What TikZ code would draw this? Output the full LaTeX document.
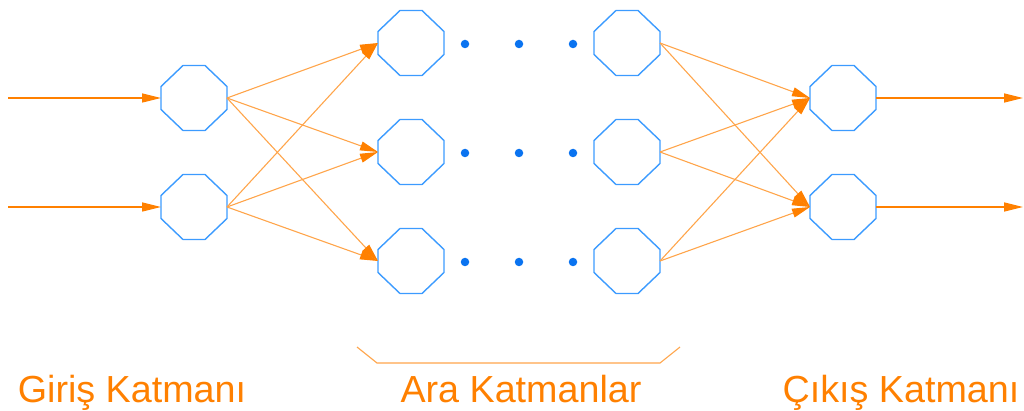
\documentclass[tikz,border=0pt]{standalone}
\usepackage{fontspec}
\setmainfont{Liberation Sans}
\usetikzlibrary{arrows.meta}
\definecolor{orD}{RGB}{255,128,0}
\definecolor{orL}{RGB}{255,165,75}
\definecolor{blO}{RGB}{60,155,255}
\definecolor{dotB}{RGB}{10,115,240}
\newcommand\octagon[1]{\draw[oct] ([shift={(-11pt,32.5pt)}]#1.center) -- ([shift={(11pt,32.5pt)}]#1.center) -- ([shift={(33pt,11.5pt)}]#1.center) -- ([shift={(33pt,-11.5pt)}]#1.center) -- ([shift={(11pt,-32.5pt)}]#1.center) -- ([shift={(-11pt,-32.5pt)}]#1.center) -- ([shift={(-33pt,-11.5pt)}]#1.center) -- ([shift={(-33pt,11.5pt)}]#1.center) -- cycle;}
\begin{document}
\begin{tikzpicture}[x=1pt,y=-1pt,
  neuron/.style={rectangle,minimum width=66pt,minimum height=65pt,inner sep=0pt,outer sep=0pt},
  io/.style={draw=orD,line width=1.3pt,-{Triangle[length=19pt,width=9pt]}},
  link/.style={draw=orL,line width=1.1pt,-{Triangle[length=18pt,width=9pt,color=orD]}},
  lbl/.style={text=orD,font=\fontsize{37.7}{40}\selectfont,anchor=base,inner sep=0pt},
  oct/.style={draw=blO,line width=1.4pt,line join=miter},
  dotst/.style={fill=dotB,circle,inner sep=0pt,minimum size=8.5pt},
  bracketline/.style={draw=orL,line width=1.1pt}]
\useasboundingbox (0,0) rectangle (1024,411);
% neurons
\node[neuron] (in1) at (194,98) {};
\node[neuron] (in2) at (194,207) {};
\node[neuron] (a1) at (411,43) {};
\node[neuron] (a2) at (411,152) {};
\node[neuron] (a3) at (411,261) {};
\node[neuron] (b1) at (627,43) {};
\node[neuron] (b2) at (627,152) {};
\node[neuron] (b3) at (627,261) {};
\node[neuron] (out1) at (843,98) {};
\node[neuron] (out2) at (843,207) {};
\foreach \n in {in1,in2,a1,a2,a3,b1,b2,b3,out1,out2}{\octagon{\n}}
% dots
\foreach \y [count=\r] in {44,153,262}{
  \foreach \x [count=\c] in {465,519,573}{
    \node[dotst] (d\r\c) at (\x,\y) {};
  }
}
% free ends
\coordinate (s1) at (8,98);
\coordinate (s2) at (8,207);
\coordinate (e1) at (1023,98);
\coordinate (e2) at (1023,207);
\draw[io] (s1) -- (in1.west);
\draw[io] (s2) -- (in2.west);
\draw[io] (out1.east) -- (e1);
\draw[io] (out2.east) -- (e2);
\foreach \i in {in1,in2}{
  \foreach \j in {a1,a2,a3}{
    \draw[link] (\i.east) -- (\j.west);
  }
}
\foreach \i in {b1,b2,b3}{
  \foreach \j in {out1,out2}{
    \draw[link] (\i.east) -- (\j.west);
  }
}
% bracket
\draw[bracketline] (357,347) -- (377,363) -- (660,363) -- (680,347);
% labels
\node[lbl] (l1) at (132,402) {Giriş Katmanı};
\node[lbl] (l2) at (521,402) {Ara Katmanlar};
\node[lbl] (l3) at (901,402) {Çıkış Katmanı};
\end{tikzpicture}
\end{document}
